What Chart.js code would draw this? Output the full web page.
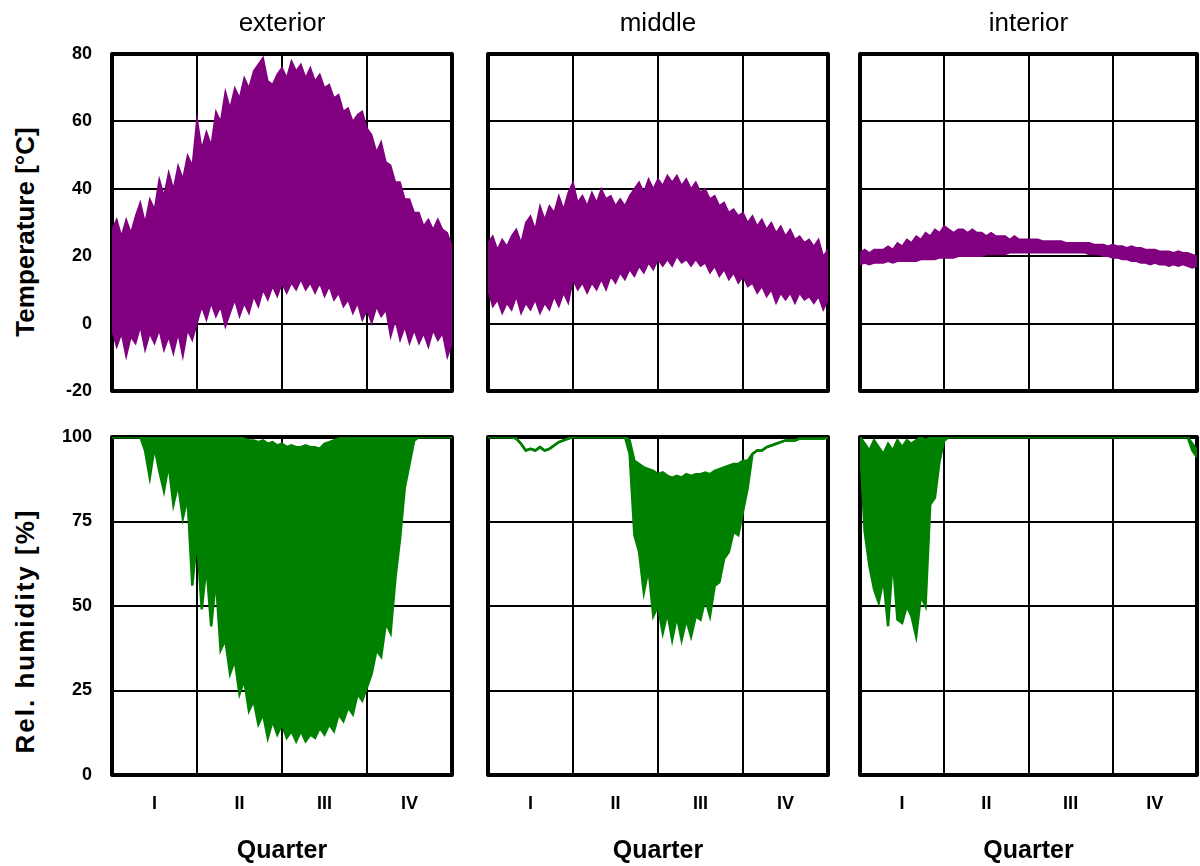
<!DOCTYPE html>
<html>
<head>
<meta charset="utf-8">
<title>Temperature and relative humidity by quarter</title>
<script src="https://cdn.jsdelivr.net/npm/chart.js@4.4.1/dist/chart.umd.min.js"></script>
<style>
  body { margin: 0; background: #fff; }
  #wrap { position: relative; width: 1200px; height: 866px; overflow: hidden; font-family: "Liberation Sans", Arial, sans-serif; }
  #wrap canvas { position: absolute; }
  .ytitle { position: absolute; font-weight: bold; font-size: 26px; white-space: nowrap; line-height: 1; transform: translate(-50%, -50%) rotate(-90deg); }
</style>
</head>
<body>
<div id="wrap">
  <div class="ytitle" style="left:25px; top:232px">Temperature [°C]</div>
  <div class="ytitle" style="left:25px; top:631px; letter-spacing:2px">Rel. humidity [%]</div>
</div>
<script>
// Temperature / humidity records, one value every ~5 days over a year (x = 0..4 quarters)

const quarterLabels = ['I', 'II', 'III', 'IV'];
const columnTitles = ['exterior', 'middle', 'interior'];
const tempTicks = [-20, 0, 20, 40, 60, 80];
const humidityTicks = [0, 25, 50, 75, 100];

// Temperature [°C], upper and lower envelope
const extTempHi = [28,31,26,31,27,32,36,30,37,34, 43,38,45,40,47,43,50,47,61,52, 57,53,63,60,69,64,70,67,73,70,
  75,77,79,72,71,74,76,73,78,75, 77,73,76,72,74,70,71,67,68,63, 64,60,62,63,58,56,51,54,48,47, 42,42,37,37,33,33,29,31,28,31, 28,27,23];
const extTempLo = [-2,-7,-3,-10,-4,-6,-1,-8,-3,-6, -2,-8,-4,-9,-3,-10,-2,-5,0,5, 1,6,2,5,-1,3,7,2,6,3,
  8,5,10,7,11,8,12,9,12,10, 13,10,12,9,12,8,11,7,9,5, 7,3,6,1,4,0,5,2,4,-4, 1,-5,-1,-6,-2,-6,-3,-7,-2,-5, -3,-10,-6];
const midTempHi = [24,26,22,25,23,26,28,24,30,32, 28,35,31,35,33,38,34,39,42,36, 38,35,39,36,40,37,38,35,37,35,
  38,40,42,39,43,40,43,41,44,42, 44,41,43,40,42,39,40,37,38,35, 36,33,34,32,33,30,32,29,31,28, 30,27,29,26,28,25,26,24,25,23, 25,20,22];
const midTempLo = [10,5,7,3,6,4,8,3,6,4, 7,3,6,4,8,5,9,6,13,10, 12,9,12,10,13,10,14,12,15,13,
  16,14,17,15,18,16,19,17,19,17, 20,18,19,17,19,17,18,15,17,14, 16,13,15,12,14,11,12,9,11,8, 10,6,9,7,9,6,9,7,8,6, 8,4,7];
const intTempHi = [21,22,21,22,22,22,23,22,24,23, 25,24,26,25,27,26,28,27,29,28, 27,28,28,27,28,27,27,26,27,26,
  26,26,25,26,25,25,25,25,25,24.5, 24.5,24.5,24.5,24.5,24,24,24,24,24,24, 23.5,23.5,23.5,23,23.5,23,23,22.5,23,22.5,
  22.5,22,22,22,21.5,21.5,21.5,21,21.5,21, 21,20.5,20];
const intTempLo = [17.5,18,17.5,18,18,18,18.5,18,18.5,18.5, 18.5,18.5,18.5,19,19,19,19,19.5,19.5,19.5,
  19.5,20,20,20,20,20,20,20.5,20.5,20.5, 20.5,20.5,21,21,21,21,21,21,21,21, 21,21,21,21,21,21,21,21,21,20.5,
  20.5,20.5,20,20,19.5,19.5,19,19,18.5,18.5, 18,18,17.5,18,17.5,17.5,17,17.5,17,17.5, 17,16.5,17];

// Relative humidity [%], upper and lower envelope
const extRhHi = [100,100,100,100,100,100,100,100,100,100, 100,100,100,100,100,100,100,100,100,100,
  100,100,100,100,100,100,100,100,99.5,99, 99,98.5,99,98,98.5,97.5,98,97,97.5,97,
  97,97.5,97,97,96.5,98,98.5,99,99.5,100, 100,100,100,100,100,100,100,100,100,100,
  100,100,100,100,100,100,100,100,100,100, 100,100,100];
const extRhLo = [100,100,100,100,100,100,100,96,88,97, 90,84,92,80,86,76,82,56,70,49, 62,44,58,37,40,30,34,24,28,19,
  22,15,18,11,16,12,15,11,13,10, 13,10,12,11,14,12,15,13,18,16, 20,18,24,22,26,30,37,35,45,42,
  58,70,85,92,99,100,100,100,100,100, 100,100,100];
const midRhHi = [100,100,100,100,100,100,99.5,98,96,96.5, 96,97,96,96.5,97.5,98.5,99,99.5,100,100,
  100,100,100,100,100,100,100,100,100,100, 99,93,92,91,90.5,90,89,89.5,88.5,88,
  88.5,88,89,88.5,89,89,89.5,89,90,90.5, 91,91.5,92,92,93,93,95,96,96,97,
  97.5,98,98.5,99,99,99,99.5,99.5,99.5,99.5, 99.5,99.5,100];
const midRhLo = [100,100,100,100,100,100,99.5,98,96,96.5, 96,97,96,96.5,97.5,98.5,99,99.5,100,100,
  100,100,100,100,100,100,100,100,100,100, 95,71,66,54,61,47,50,42,48,40,
  47,40,46,41,47,46,52,47,56,57, 64,66,72,71,78,85,95,96,96,97,
  97.5,98,98.5,99,99,99,99.5,99.5,99.5,99.5, 99.5,99.5,100];
const intRhHi = [100,98,96,99,97,95,98,96,99,97, 99,98,99,100,99,100,100,100,100,100,
  100,100,100,100,100,100,100,100,100,100, 100,100,100,100,100,100,100,100,100,100,
  100,100,100,100,100,100,100,100,100,100, 100,100,100,100,100,100,100,100,100,100,
  100,100,100,100,100,100,100,100,100,100, 100,98,96];
const intRhLo = [98,72,62,55,51,58,44,64,46,45, 50,47,41,53,50,80,82,93,99,100,
  100,100,100,100,100,100,100,100,100,100, 100,100,100,100,100,100,100,100,100,100,
  100,100,100,100,100,100,100,100,100,100, 100,100,100,100,100,100,100,100,100,100,
  100,100,100,100,100,100,100,100,100,100, 100,96,94];

Chart.defaults.font.family = '"Liberation Sans", Arial, sans-serif';
Chart.defaults.color = '#000';
Chart.defaults.animation = false;

const purple = '#800080';
const green = '#008000';

// canvas placement per column (plot area is left+axisWidth .. width-padRight)
const columns = [
  {left: 0, width: 458, axisWidth: 112, padRight: 6},
  {left: 470, width: 364, axisWidth: 18, padRight: 6},
  {left: 842, width: 358, axisWidth: 18, padRight: 3}
];

// thick black box round each plot
const framePlugin = {
  id: 'frame',
  beforeDatasetsDraw(chart) {
    const {ctx, chartArea: a} = chart;
    ctx.save();
    ctx.strokeStyle = '#000';
    ctx.lineWidth = 4;
    ctx.lineJoin = 'round';
    ctx.strokeRect(a.left, a.top, a.right - a.left, a.bottom - a.top);
    ctx.restore();
  }
};

function toPoints(values) {
  return values.map((v, i) => ({x: i * 4 / (values.length - 1), y: v}));
}

function makeChart(row, col, hi, lo, color) {
  const c = columns[col];
  const canvas = document.createElement('canvas');
  canvas.width = c.width;
  canvas.height = row === 0 ? 400 : 456;
  canvas.style.left = c.left + 'px';
  canvas.style.top = (row === 0 ? 0 : 410) + 'px';
  document.getElementById('wrap').appendChild(canvas);

  const yTicks = row === 0 ? tempTicks : humidityTicks;
  const lineWidth = row === 0 ? 1.5 : 2.5;
  const scales = {
    x: {
      type: 'linear',
      min: 0,
      max: 4,
      grid: {
        color: ctx => Number.isInteger(ctx.tick.value) ? '#000' : 'rgba(0,0,0,0)',
        lineWidth: 2,
        drawTicks: false
      },
      border: {display: false},
      ticks: {
        display: row === 1,
        stepSize: 0.5,
        autoSkip: false,
        maxRotation: 0,
        padding: 18,
        font: {size: 18, weight: 'bold'},
        callback: v => Number.isInteger(v) ? '' : quarterLabels[Math.floor(v)]
      },
      title: {display: row === 1, text: 'Quarter', font: {size: 25, weight: 'bold'}, padding: {top: 0, bottom: 0}},
      afterFit: s => {
        s.height = row === 0 ? 9 : 91;
        s.paddingLeft = 0;
        s.paddingRight = 0;
      }
    },
    y: {
      type: 'linear',
      min: yTicks[0],
      max: yTicks[yTicks.length - 1],
      afterBuildTicks: s => { s.ticks = yTicks.map(v => ({value: v})); },
      grid: {color: '#000', lineWidth: 2, drawTicks: false},
      border: {display: false},
      ticks: {display: col === 0, padding: 20, font: {size: 18, weight: 'bold'}},
      afterFit: s => {
        s.width = c.axisWidth;
        s.paddingTop = 0;
        s.paddingBottom = 0;
      }
    }
  };
  if (row === 0) {
    // empty top axis that only carries the column title
    scales.top = {
      type: 'linear',
      position: 'top',
      min: 0,
      max: 4,
      grid: {display: false, drawTicks: false},
      border: {display: false},
      ticks: {display: false},
      title: {display: true, text: columnTitles[col], font: {size: 26}, padding: {top: 8, bottom: 0}},
      afterFit: s => {
        s.height = 54;
        s.paddingLeft = 0;
        s.paddingRight = 0;
      }
    };
  }

  new Chart(canvas, {
    type: 'line',
    data: {
      datasets: [
        {data: toPoints(hi), borderColor: color, backgroundColor: color, borderWidth: lineWidth, pointRadius: 0, fill: '+1', xAxisID: 'x'},
        {data: toPoints(lo), borderColor: color, backgroundColor: color, borderWidth: lineWidth, pointRadius: 0, fill: false, xAxisID: 'x'}
      ]
    },
    options: {
      responsive: false,
      layout: {padding: {top: row === 0 ? 0 : 27, right: c.padRight, bottom: 0, left: 0}},
      plugins: {legend: {display: false}, tooltip: {enabled: false}},
      scales: scales
    },
    plugins: [framePlugin]
  });
}

makeChart(0, 0, extTempHi, extTempLo, purple);
makeChart(0, 1, midTempHi, midTempLo, purple);
makeChart(0, 2, intTempHi, intTempLo, purple);
makeChart(1, 0, extRhHi, extRhLo, green);
makeChart(1, 1, midRhHi, midRhLo, green);
makeChart(1, 2, intRhHi, intRhLo, green);
</script>
</body>
</html>
